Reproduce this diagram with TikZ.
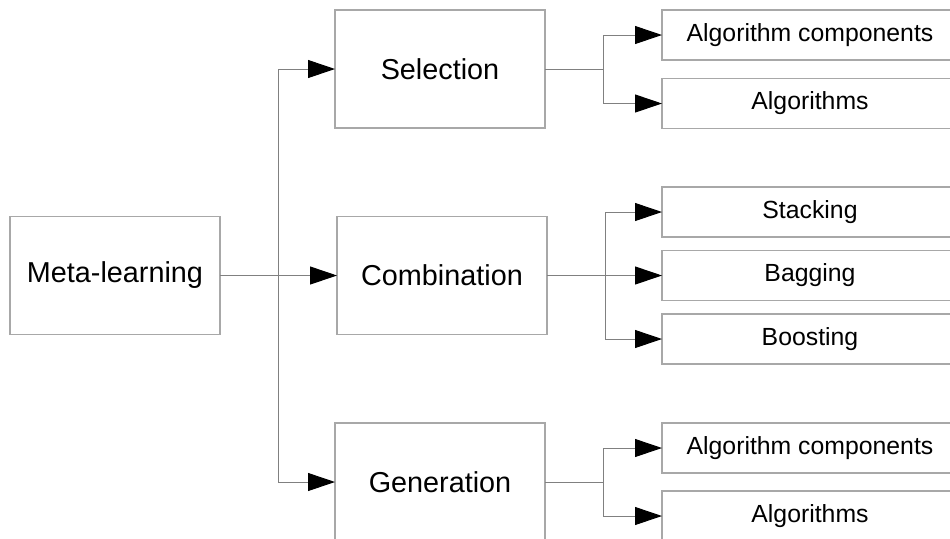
\documentclass[tikz,border=0pt]{standalone}
\usepackage{fontspec}
\setmainfont{Liberation Sans}
\usetikzlibrary{arrows.meta}
\definecolor{boxgray}{HTML}{A8A8A8}
\definecolor{linegray}{HTML}{808080}
\tikzset{
  bigbox/.style={draw=boxgray, line width=0.6pt, fill=white, minimum width=105pt, minimum height=59pt, inner sep=0pt, outer sep=0pt, font=\fontsize{14.4pt}{17pt}\selectfont},
  smallbox/.style={draw=boxgray, line width=0.6pt, fill=white, minimum width=148pt, minimum height=25pt, inner sep=0pt, outer sep=0pt, font=\fontsize{12.4pt}{15pt}\selectfont},
  conn/.style={draw=linegray, line width=0.5pt},
  arr/.style={conn, -{Triangle[length=13.5pt,width=9pt,black]}}
}
\begin{document}
\begin{tikzpicture}[x=0.5pt,y=-0.5pt]
\useasboundingbox (0,0) rectangle (950,538);
\clip (0,0) rectangle (950,538);
\fill[white] (0,0) rectangle (950,538);
% main boxes
\node[bigbox] (meta) at (115,275.5) {Meta-learning};
\node[bigbox] (sel) at (440,69) {Selection};
\node[bigbox] (comb) at (442,275.5) {Combination};
\node[bigbox] (gen) at (440,482) {Generation};
% right boxes
\node[smallbox] (s1) at (810,35) {Algorithm components};
\node[smallbox] (s2) at (810,103.5) {Algorithms};
\node[smallbox] (c1) at (810,212) {Stacking};
\node[smallbox] (c2) at (810,275.5) {Bagging};
\node[smallbox] (c3) at (810,339) {Boosting};
\node[smallbox] (g1) at (810,448) {Algorithm components};
\node[smallbox] (g2) at (810,516) {Algorithms};
% trunk
\coordinate (tr) at (278,275.5);
\draw[arr] (meta.east) -- (comb.west);
\draw[arr] (tr) |- (sel.west);
\draw[arr] (tr) |- (gen.west);
% selection branch
\coordinate (sb) at (603,69);
\draw[conn] (sel.east) -- (sb);
\draw[arr] (sb) |- (s1.west);
\draw[arr] (sb) |- (s2.west);
% combination branch
\coordinate (cb) at (605,275.5);
\draw[arr] (comb.east) -- (c2.west);
\draw[arr] (cb) |- (c1.west);
\draw[arr] (cb) |- (c3.west);
% generation branch
\coordinate (gb) at (603,482);
\draw[conn] (gen.east) -- (gb);
\draw[arr] (gb) |- (g1.west);
\draw[arr] (gb) |- (g2.west);
\end{tikzpicture}
\end{document}
